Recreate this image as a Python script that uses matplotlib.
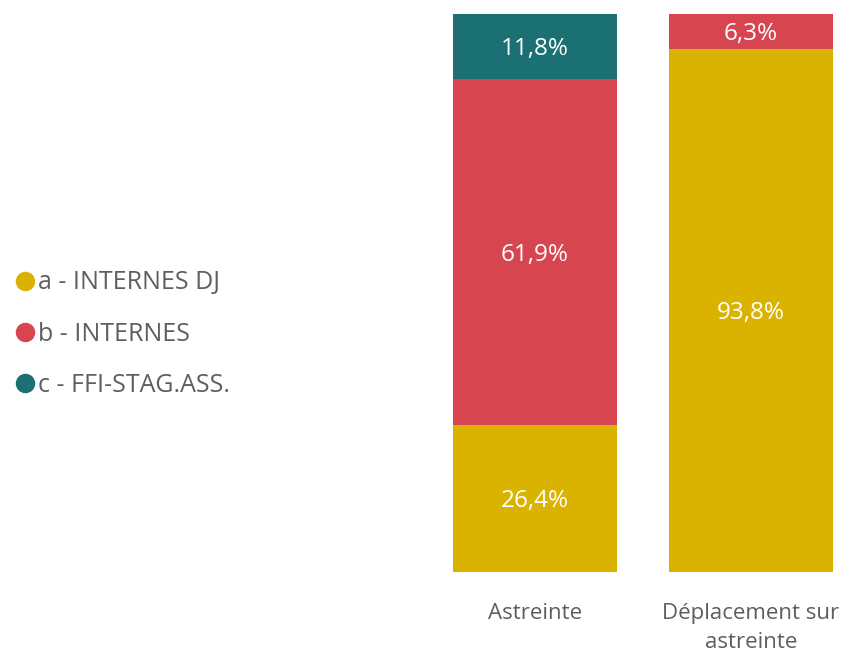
import matplotlib.pyplot as plt
from matplotlib.lines import Line2D

plt.rcParams['font.family'] = ['Open Sans', 'DejaVu Sans']

categories = ["Astreinte", "Déplacement sur\nastreinte"]
series = ["a - INTERNES DJ", "b - INTERNES", "c - FFI-STAG.ASS."]
values = {
    "a - INTERNES DJ": [26.4, 93.8],
    "b - INTERNES": [61.9, 6.3],
    "c - FFI-STAG.ASS.": [11.8, 0.0],
}
labels = {
    "a - INTERNES DJ": ["26,4%", "93,8%"],
    "b - INTERNES": ["61,9%", "6,3%"],
    "c - FFI-STAG.ASS.": ["11,8%", ""],
}
colors = ["#D9B300", "#D64550", "#1B7073"]
text_grey = "#605E5C"

fig = plt.figure(figsize=(8.48, 6.54), dpi=100)
# axes placed in pixels: bars span 453..833 px, 14..572 px from top
ax = fig.add_axes([453 / 848, 82 / 654, 380 / 848, 558 / 654])

x = list(range(len(categories)))
bottom = [0.0] * len(categories)
for name, col in zip(series, colors):
    vals = values[name]
    ax.bar(x, vals, width=0.761, bottom=bottom, color=col, linewidth=0)
    for i, v in enumerate(vals):
        if v > 0:
            ax.text(x[i], bottom[i] + v / 2, labels[name][i], ha="center", va="center_baseline",
                    color="white", fontsize=17.5)
    bottom = [b + v for b, v in zip(bottom, vals)]

ax.set_xlim(-0.3805, 1.3805)
ax.set_ylim(0, 100)
ax.set_xticks(x)
ax.set_xticklabels(categories, color=text_grey, fontsize=16, linespacing=1.55)
ax.tick_params(axis="x", length=0, pad=22)
ax.set_yticks([])
for s in ax.spines.values():
    s.set_visible(False)

handles = [Line2D([], [], marker="o", linestyle="", markersize=13, color=c) for c in colors]
leg = fig.legend(handles, series, loc="center left", bbox_to_anchor=(0.015, 0.489),
                 frameon=False, fontsize=18, labelspacing=1.05, handletextpad=0.0,
                 handlelength=1.0, borderaxespad=0, borderpad=0)
for t in leg.get_texts():
    t.set_color(text_grey)

fig.savefig("out.png", dpi=100)
